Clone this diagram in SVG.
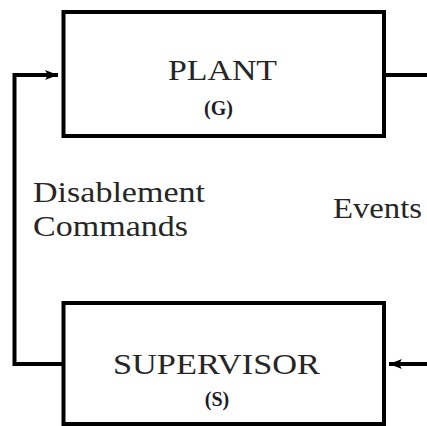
<svg xmlns="http://www.w3.org/2000/svg" width="427" height="426" viewBox="0 0 427 426">
  <defs>
    <marker id="arrow" viewBox="-13 -6 14 12" refX="0" refY="0" markerUnits="userSpaceOnUse" markerWidth="14" markerHeight="12" orient="auto">
      <path d="M0,0 L-13,-5 Q-9,0 -13,5 Z" fill="#000"/>
    </marker>
  </defs>
  <style>
    .box { fill: #fff; stroke: #000; stroke-width: 4; }
    .wire { fill: none; stroke: #000; stroke-width: 4; }
    .title { font-family: "Liberation Serif", "Times New Roman", serif; font-size: 29px; fill: #262626; }
    .sym { font-family: "Liberation Serif", "Times New Roman", serif; font-size: 20px; font-weight: bold; fill: #1a1a2a; }
    .label { font-family: "Liberation Serif", "Times New Roman", serif; font-size: 29px; fill: #262626; }
  </style>
  <rect width="427" height="426" fill="#fff"/>

  <g id="connectors">
    <!-- events out of the plant, back into the supervisor -->
    <path class="wire" d="M384,75 L427,75" stroke-width="3.5"/>
    <path class="wire" d="M427,364 L389,364" marker-end="url(#arrow)"/>
    <!-- disablement loop from supervisor to plant -->
    <path class="wire" d="M63.5,364 L14.5,364 L14.5,75 L58,75" marker-end="url(#arrow)"/>
  </g>

  <g id="plant">
    <rect class="box" x="63.5" y="12" width="320.5" height="124"/>
    <text class="title" x="222.5" y="80" text-anchor="middle" textLength="109" lengthAdjust="spacingAndGlyphs">PLANT</text>
    <text class="sym" x="218.5" y="115" text-anchor="middle">(G)</text>
  </g>

  <g id="supervisor">
    <rect class="box" x="63.5" y="303" width="320.5" height="121"/>
    <text class="title" x="216.5" y="374" text-anchor="middle" textLength="207" lengthAdjust="spacingAndGlyphs">SUPERVISOR</text>
    <text class="sym" x="217" y="406" text-anchor="middle">(S)</text>
  </g>

  <g id="labels">
    <text class="label" x="33" y="202" textLength="172" lengthAdjust="spacingAndGlyphs">Disablement</text>
    <text class="label" x="33" y="236" textLength="155" lengthAdjust="spacingAndGlyphs">Commands</text>
    <text class="label" x="333" y="218" textLength="89" lengthAdjust="spacingAndGlyphs">Events</text>
  </g>
</svg>
